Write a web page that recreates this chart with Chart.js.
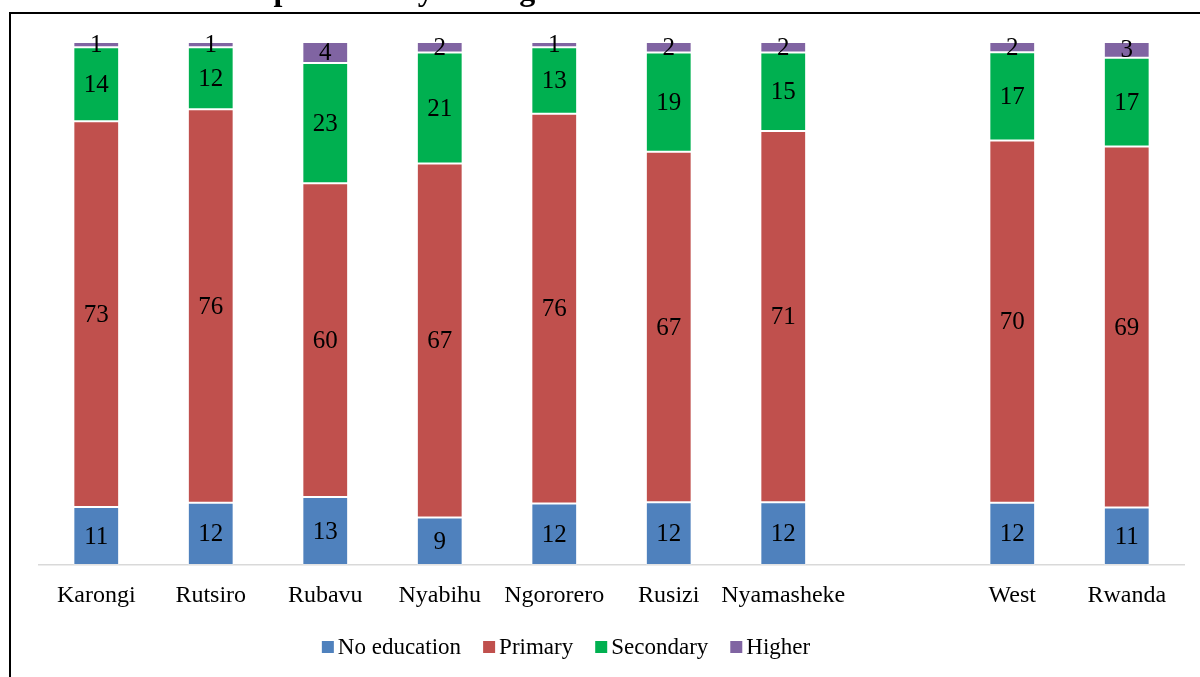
<!DOCTYPE html>
<html>
<head>
<meta charset="utf-8">
<title>West province by the highest level of education attained</title>
<script src="https://cdn.jsdelivr.net/npm/chart.js@4.4.0/dist/chart.umd.min.js"></script>
<style>
  html, body { margin: 0; padding: 0; background: #fff; }
  #wrap { width: 1200px; height: 677px; position: relative; }
</style>
</head>
<body>
<div id="wrap"><canvas id="eduChart"></canvas></div>
<script>
// Population by highest level of education attained (%), one blank slot before the totals
const districts   = ['Karongi', 'Rutsiro', 'Rubavu', 'Nyabihu', 'Ngororero', 'Rusizi', 'Nyamasheke', '', 'West', 'Rwanda'];
const noEducation = [11, 12, 13, 9, 12, 12, 12, null, 12, 11];
const primary     = [73, 76, 60, 67, 76, 67, 71, null, 70, 69];
const secondary   = [14, 12, 23, 21, 13, 19, 15, null, 17, 17];
const higher      = [1, 1, 4, 2, 1, 2, 2, null, 2, 3];

const SERIF = '"Liberation Serif", "Times New Roman", serif';

// rounded shares don't always add to 100, so bars are drawn as a 100% stack
const totals = districts.map((_, i) =>
  [noEducation, primary, secondary, higher].reduce((s, arr) => s + (arr[i] || 0), 0));
const share = arr => arr.map((v, i) => v == null ? null : v / totals[i] * 100);

function series(label, values, color) {
  return {
    label,
    values,
    data: share(values),
    backgroundColor: color,
    borderColor: 'rgba(255,255,255,0.25)',
    borderWidth: 1,
    borderSkipped: false,
    barPercentage: 0.4,
    categoryPercentage: 1.0
  };
}

// frame + heading sitting above the plot
const framePlugin = {
  id: 'frame',
  beforeDraw(chart) {
    const ctx = chart.ctx;
    ctx.save();
    ctx.fillStyle = '#fff';
    ctx.fillRect(0, 0, chart.width, chart.height);
    ctx.fillStyle = '#000';
    ctx.font = 'bold 32px ' + SERIF;
    ctx.textAlign = 'left';
    ctx.textBaseline = 'alphabetic';
    ctx.fillText('West province by the highest level of education attained', 198, 0);
    ctx.strokeStyle = '#000';
    ctx.lineWidth = 2;
    ctx.beginPath();
    ctx.moveTo(10, chart.height + 2);
    ctx.lineTo(10, 13);
    ctx.lineTo(chart.width + 2, 13);
    ctx.stroke();
    ctx.restore();
  }
};

// value written in the middle of each segment
const segmentLabels = {
  id: 'segmentLabels',
  afterDatasetsDraw(chart) {
    const ctx = chart.ctx;
    ctx.save();
    ctx.font = '25px ' + SERIF;
    ctx.fillStyle = '#000';
    ctx.textAlign = 'center';
    ctx.textBaseline = 'middle';
    chart.data.datasets.forEach((ds, di) => {
      const meta = chart.getDatasetMeta(di);
      meta.data.forEach((bar, i) => {
        const v = ds.values[i];
        if (v == null) return;
        ctx.fillText(String(v), bar.x, (bar.y + bar.base) / 2 + 1);
      });
    });
    ctx.restore();
  }
};

// legend row: small square, tight gap, label
const legendRow = {
  id: 'legendRow',
  afterDraw(chart) {
    const ctx = chart.ctx;
    const box = 12, gap = 4, spacing = 22, cx = 566, cy = 647;
    ctx.save();
    ctx.font = '23px ' + SERIF;
    ctx.textBaseline = 'middle';
    ctx.textAlign = 'left';
    const items = chart.data.datasets.map(ds => ({
      text: ds.label, color: ds.backgroundColor, w: ctx.measureText(ds.label).width
    }));
    const total = items.reduce((s, it) => s + box + gap + it.w, 0) + spacing * (items.length - 1);
    let x = cx - total / 2;
    items.forEach(it => {
      ctx.fillStyle = it.color;
      ctx.fillRect(x, cy - box / 2, box, box);
      ctx.fillStyle = '#000';
      ctx.fillText(it.text, x + box + gap, cy + 1);
      x += box + gap + it.w + spacing;
    });
    ctx.restore();
  }
};

new Chart(document.getElementById('eduChart'), {
  type: 'bar',
  data: {
    labels: districts,
    datasets: [
      series('No education', noEducation, '#4F81BD'),
      series('Primary', primary, '#C0504D'),
      series('Secondary', secondary, '#00B050'),
      series('Higher', higher, '#8064A2')
    ]
  },
  options: {
    responsive: true,
    maintainAspectRatio: false,
    animation: false,
    layout: { padding: { left: 39, right: 16, top: 42, bottom: 59 } },
    plugins: {
      legend: { display: false },
      tooltip: { enabled: false }
    },
    scales: {
      x: {
        stacked: true,
        grid: { display: false, drawTicks: false },
        border: { color: '#d9d9d9', width: 1.5 },
        ticks: {
          color: '#000',
          padding: 16,
          autoSkip: false,
          maxRotation: 0,
          minRotation: 0,
          font: { family: SERIF, size: 24 }
        },
        afterFit(scale) { scale.height = 53; }
      },
      y: {
        stacked: true,
        display: false,
        min: 0,
        max: 100
      }
    }
  },
  plugins: [framePlugin, segmentLabels, legendRow]
});
</script>
</body>
</html>
